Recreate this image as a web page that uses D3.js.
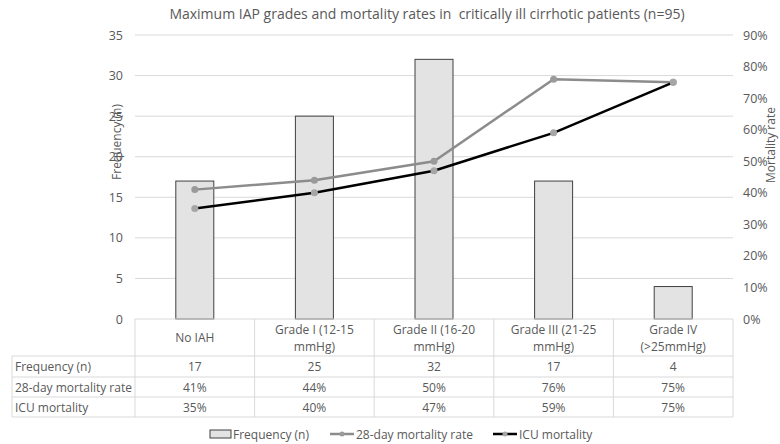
<!DOCTYPE html>
<html>
<head>
<meta charset="utf-8">
<script src="https://cdn.jsdelivr.net/npm/d3@7"></script>
<style>
  body { margin: 0; background: #fff; }
  svg { font-family: "Open Sans", "Liberation Sans", sans-serif; }
</style>
</head>
<body>
<div id="chart"></div>
<script>
const categories = ["No IAH", "Grade I (12-15 mmHg)", "Grade II (16-20 mmHg)", "Grade III (21-25 mmHg)", "Grade IV (>25mmHg)"];
const categoryLines = [["No IAH"], ["Grade I (12-15", "mmHg)"], ["Grade II (16-20", "mmHg)"], ["Grade III (21-25", "mmHg)"], ["Grade IV", "(>25mmHg)"]];
const frequency = [17, 25, 32, 17, 4];
const mortality28 = [0.41, 0.44, 0.50, 0.76, 0.75];
const icuMortality = [0.35, 0.40, 0.47, 0.59, 0.75];
const leftTicks = [0, 5, 10, 15, 20, 25, 30, 35];
const rightTicks = [0, 0.1, 0.2, 0.3, 0.4, 0.5, 0.6, 0.7, 0.8, 0.9];

const WIDTH = 780, HEIGHT = 444;
const PLOT = { LEFT: 135, RIGHT: 733, TOP: 35, BOTTOM: 319 };
const TABLE_LEFT = 12;
const ROW_EDGES = [319, 356, 377, 397, 417];
const TEXT = "#595959";
const GRID = "#d9d9d9";

const svg = d3.select("#chart").append("svg")
  .attr("width", WIDTH)
  .attr("height", HEIGHT);

const x = d3.scaleBand(categories, [PLOT.LEFT, PLOT.RIGHT]);
const yLeft = d3.scaleLinear([0, 35], [PLOT.BOTTOM, PLOT.TOP]);
const yRight = d3.scaleLinear([0, 0.9], [PLOT.BOTTOM, PLOT.TOP]);

// title
svg.append("text")
  .attr("x", 427).attr("y", 19)
  .attr("text-anchor", "middle")
  .attr("fill", TEXT)
  .style("font-size", "14px")
  .style("white-space", "pre")
  .text("Maximum IAP grades and mortality rates in  critically ill cirrhotic patients (n=95)");

// gridlines
svg.append("g").selectAll("line")
  .data(leftTicks.slice(1))
  .join("line")
  .attr("x1", PLOT.LEFT).attr("x2", PLOT.RIGHT)
  .attr("y1", (d) => yLeft(d)).attr("y2", (d) => yLeft(d))
  .attr("stroke", GRID);

// left axis
const leftAxis = svg.append("g")
  .attr("transform", `translate(${PLOT.LEFT - 8}, 0)`)
  .call(d3.axisLeft(yLeft).tickValues(leftTicks).tickSize(0).tickPadding(4));
leftAxis.select(".domain").remove();
leftAxis.selectAll("text").attr("fill", TEXT).style("font-size", "12.5px")
  .style("font-family", "'Open Sans', sans-serif");

// right axis
const rightAxis = svg.append("g")
  .attr("transform", `translate(${PLOT.RIGHT + 6}, 0)`)
  .call(d3.axisRight(yRight).tickValues(rightTicks).tickFormat(d3.format(".0%")).tickSize(0).tickPadding(4));
rightAxis.select(".domain").remove();
rightAxis.selectAll("text").attr("fill", TEXT).style("font-size", "12.5px")
  .style("font-family", "'Open Sans', sans-serif");

// axis titles
svg.append("text")
  .attr("transform", `translate(121, 142) rotate(-90)`)
  .attr("text-anchor", "middle")
  .attr("fill", TEXT)
  .style("font-size", "12px")
  .text("Frequency (n)");

svg.append("text")
  .attr("transform", `translate(775, 145) rotate(-90)`)
  .attr("text-anchor", "middle")
  .attr("fill", TEXT)
  .style("font-size", "12px")
  .text("Mortality rate");

// bars
const BAR_W = 38;
svg.append("g").selectAll("rect")
  .data(frequency)
  .join("rect")
  .attr("x", (d, i) => x(categories[i]) + x.bandwidth() / 2 - BAR_W / 2)
  .attr("y", (d) => yLeft(d))
  .attr("width", BAR_W)
  .attr("height", (d) => yLeft(0) - yLeft(d))
  .attr("fill", "#e3e3e3")
  .attr("stroke", "#404040")
  .attr("stroke-width", 1);

// lines
const cx = (i) => x(categories[i]) + x.bandwidth() / 2;
const line = d3.line().x((d, i) => cx(i)).y((d) => yRight(d));

const series = [
  { values: mortality28, stroke: "#8c8c8c", marker: "#9a9a9a" },
  { values: icuMortality, stroke: "#000000", marker: "#a6a6a6" },
];

series.forEach(({ values, stroke, marker }) => {
  svg.append("path")
    .datum(values)
    .attr("d", line)
    .attr("fill", "none")
    .attr("stroke", stroke)
    .attr("stroke-width", 2.5);
  svg.append("g").selectAll("circle")
    .data(values)
    .join("circle")
    .attr("cx", (d, i) => cx(i))
    .attr("cy", (d) => yRight(d))
    .attr("r", 3.5)
    .attr("fill", marker);
});

// data table
const table = svg.append("g");
// horizontal lines
ROW_EDGES.forEach((yy, i) => {
  table.append("line")
    .attr("x1", i === 0 ? PLOT.LEFT : TABLE_LEFT).attr("x2", PLOT.RIGHT)
    .attr("y1", yy).attr("y2", yy)
    .attr("stroke", GRID);
});
// vertical lines
table.append("line")
  .attr("x1", TABLE_LEFT).attr("x2", TABLE_LEFT)
  .attr("y1", ROW_EDGES[1]).attr("y2", ROW_EDGES[4])
  .attr("stroke", GRID);
[...categories.map((c) => x(c)), PLOT.RIGHT].forEach((xx) => {
  table.append("line")
    .attr("x1", xx).attr("x2", xx)
    .attr("y1", ROW_EDGES[0]).attr("y2", ROW_EDGES[4])
    .attr("stroke", GRID);
});

// header text
categoryLines.forEach((lines, i) => {
  const midY = (ROW_EDGES[0] + ROW_EDGES[1]) / 2;
  lines.forEach((t, j) => {
    table.append("text")
      .attr("x", cx(i))
      .attr("y", midY + 4.5 + (j - (lines.length - 1) / 2) * 17)
      .attr("text-anchor", "middle")
      .attr("fill", TEXT)
      .style("font-size", "12px")
      .text(t);
  });
});

const rows = [
  { label: "Frequency (n)", values: frequency.map(String) },
  { label: "28-day mortality rate", values: mortality28.map(d3.format(".0%")) },
  { label: "ICU mortality", values: icuMortality.map(d3.format(".0%")) },
];

rows.forEach(({ label, values }, r) => {
  const midY = (ROW_EDGES[r + 1] + ROW_EDGES[r + 2]) / 2 + 4.5;
  table.append("text")
    .attr("x", TABLE_LEFT + 3).attr("y", midY)
    .attr("fill", TEXT)
    .style("font-size", "12px")
    .text(label);
  values.forEach((v, i) => {
    table.append("text")
      .attr("x", cx(i)).attr("y", midY)
      .attr("text-anchor", "middle")
      .attr("fill", TEXT)
      .style("font-size", "12px")
      .text(v);
  });
});

// legend
const legend = svg.append("g").attr("transform", "translate(0, 434)");
legend.append("rect")
  .attr("x", 210).attr("y", -4).attr("width", 21).attr("height", 8)
  .attr("fill", "#e3e3e3").attr("stroke", "#404040");
legend.append("text")
  .attr("x", 233).attr("y", 4.5)
  .attr("fill", TEXT).style("font-size", "12px")
  .text("Frequency (n)");

const legendLines = [
  { x0: 330, label: "28-day mortality rate", stroke: "#8c8c8c", marker: "#9a9a9a" },
  { x0: 493, label: "ICU mortality", stroke: "#000000", marker: "#a6a6a6" },
];
legendLines.forEach(({ x0, label, stroke, marker }) => {
  legend.append("line")
    .attr("x1", x0).attr("x2", x0 + 24)
    .attr("y1", 0).attr("y2", 0)
    .attr("stroke", stroke).attr("stroke-width", 2.5);
  legend.append("circle")
    .attr("cx", x0 + 12).attr("cy", 0).attr("r", 2.5)
    .attr("fill", marker);
  legend.append("text")
    .attr("x", x0 + 26).attr("y", 4.5)
    .attr("fill", TEXT).style("font-size", "12px")
    .text(label);
});
</script>
</body>
</html>
